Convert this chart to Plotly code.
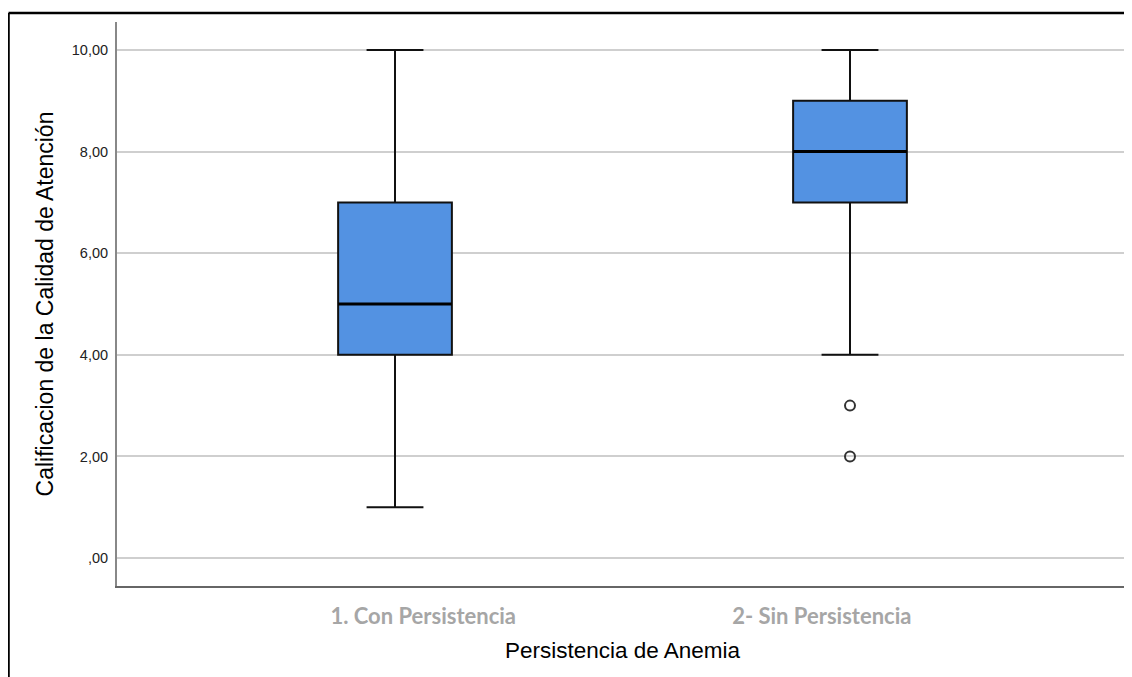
import plotly.graph_objects as go

# ---- data ----
categories = ["1. Con Persistencia", "2- Sin Persistencia"]
q1 = [4.0, 7.0]
median = [5.0, 8.0]
q3 = [7.0, 9.0]
lower_whisker = [1.0, 4.0]
upper_whisker = [10.0, 10.0]
outlier_cat = [1, 1]
outlier_vals = [3.0, 2.0]
ytick_vals = [0, 2, 4, 6, 8, 10]
ytick_text = [",00", "2,00", "4,00", "6,00", "8,00", "10,00"]

x_title = "Persistencia de Anemia"
y_title = "Calificacion de la Calidad de Atención"

positions = list(range(len(categories)))
box_width = 0.25
# the category labels in the original sit slightly toward the centre
label_shift = [0.062, -0.062]
label_positions = [p + s for p, s in zip(positions, label_shift)]

fig = go.Figure()

fig.add_trace(go.Box(
    x=positions,
    q1=q1, median=median, q3=q3,
    lowerfence=lower_whisker, upperfence=upper_whisker,
    width=box_width,
    whiskerwidth=0.5,
    fillcolor="rgb(83,146,226)",
    line=dict(color="#111111", width=2),
    boxpoints=False,
    showlegend=False,
    hoverinfo="skip",
))

# thicker median lines
mx, my = [], []
for p, m in zip(positions, median):
    mx += [p - box_width / 2, p + box_width / 2, None]
    my += [m, m, None]
fig.add_trace(go.Scatter(
    x=mx, y=my, mode="lines",
    line=dict(color="black", width=3),
    showlegend=False, hoverinfo="skip",
))

fig.add_trace(go.Scatter(
    x=outlier_cat, y=outlier_vals, mode="markers",
    marker=dict(symbol="circle-open", size=10, color="#333333",
                line=dict(width=2, color="#333333")),
    showlegend=False, hoverinfo="skip",
))

fig.update_layout(
    width=1124, height=669,
    margin=dict(l=109, r=4, t=14, b=91),
    paper_bgcolor="white", plot_bgcolor="white",
    font=dict(family="Liberation Sans, Arial, sans-serif", color="black"),
    shapes=[
        dict(type="line", xref="paper", yref="paper",
             x0=-0.1073, x1=1.01, y0=1.016, y1=1.016,
             line=dict(color="black", width=2.5)),
        dict(type="line", xref="paper", yref="paper",
             x0=-0.1073, x1=-0.1073, y0=1.016, y1=-0.17,
             line=dict(color="black", width=2.5)),
    ],
)

fig.update_xaxes(
    range=[-0.611, 1.611],
    tickmode="array", tickvals=label_positions, ticktext=categories,
    tickfont=dict(family="Lato, sans-serif", size=22, color="#a6a6a6", weight="bold"),
    ticks="", ticklabelstandoff=10,
    showgrid=False, zeroline=False,
    showline=True, linecolor="#666666", linewidth=2,
    title=dict(text=x_title, font=dict(size=22.5, color="black"), standoff=14),
)

fig.update_yaxes(
    range=[-0.55, 10.55],
    tickmode="array", tickvals=ytick_vals, ticktext=ytick_text,
    tickfont=dict(size=14.5, color="#222222"),
    ticks="", ticklabelstandoff=4,
    showgrid=True, gridcolor="#cfcfcf", gridwidth=1.5,
    zeroline=False,
    showline=True, linecolor="#888888", linewidth=2,
    title=dict(text=y_title, font=dict(size=23, color="black"), standoff=12),
)

fig.write_html("out.html")
